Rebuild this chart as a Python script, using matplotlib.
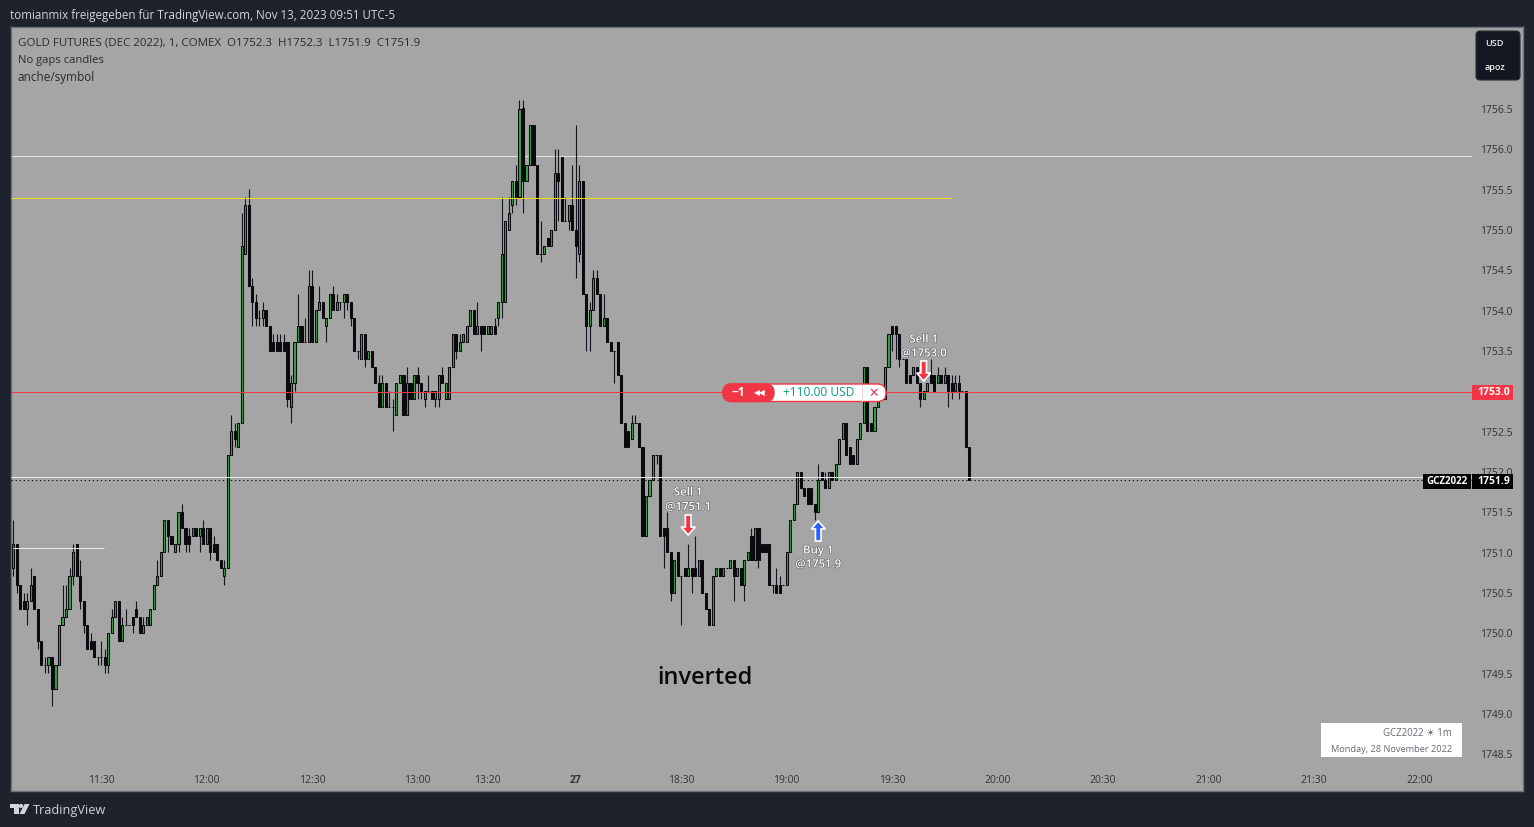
#!/usr/bin/env python3
import matplotlib
matplotlib.use('Agg')
import matplotlib.pyplot as plt
import matplotlib.patheffects as pe
from matplotlib.patches import FancyBboxPatch, Polygon, Circle, Rectangle
import numpy as np

plt.rcParams['font.family'] = ['Open Sans', 'DejaVu Sans']

# prices are kept without the leading 1700
base = 1700
opens = [50.8,51.1,50.6,50.4,50.3,50.4,50.7,50.3,49.9,49.6,
    49.6,49.7,49.3,49.6,50.1,50.2,50.3,50.7,51.1,50.7,
    50.4,50.1,49.9,49.9,49.7,49.7,49.7,49.6,50.0,50.2,
    50.4,49.9,50.1,50.1,50.2,50.3,50.2,50.0,50.1,50.1,
    50.3,50.6,50.7,51.0,51.4,51.2,51.0,51.1,51.5,51.3,
    51.2,51.2,51.3,51.2,51.3,51.1,51.3,51.1,51.1,50.9,
    50.7,50.8,52.2,52.5,52.3,52.6,54.7,55.3,54.3,54.1,
    53.9,53.9,54.0,53.8,53.6,53.6,53.6,53.6,53.6,52.8,
    53.1,53.6,53.8,53.6,53.6,54.3,53.6,54.0,54.1,53.8,
    53.9,54.2,54.0,54.1,54.1,54.2,54.1,53.9,53.5,53.4,
    53.7,53.4,53.5,53.3,53.1,52.8,53.1,52.8,52.8,52.7,
    53.1,53.2,52.7,53.1,52.9,53.2,53.1,52.9,53.0,53.0,
    52.9,52.9,53.2,52.9,52.9,53.3,53.7,53.5,53.6,53.6,
    53.8,54.0,53.7,53.8,53.8,53.7,53.7,53.8,53.9,54.1,
    54.1,55.0,55.3,55.6,55.4,56.5,55.6,55.8,56.3,55.8,
    54.7,54.7,54.9,54.8,55.0,55.7,55.9,55.1,55.1,55.3,
    55.0,54.7,55.6,54.2,53.8,54.0,54.4,54.2,53.8,53.9,
    53.6,53.5,53.6,53.2,52.6,52.5,52.4,52.6,52.6,52.3,
    51.2,51.7,51.9,52.2,52.2,51.3,51.3,51.0,50.5,51.0,
    50.7,50.8,50.7,50.8,50.8,50.7,50.9,50.5,50.3,50.1,
    50.7,50.8,50.7,50.8,50.8,50.9,50.7,50.8,50.6,50.9,
    51.2,50.9,51.3,51.1,51.1,51.1,50.6,50.6,50.6,50.6,
    50.6,51.0,51.4,51.6,52.0,51.8,51.8,51.8,51.6,51.5,
    52.0,51.9,51.8,52.0,51.9,52.1,52.4,52.6,52.3,52.2,
    52.1,52.4,52.6,53.3,52.6,52.5,52.8,52.9,52.9,53.3,
    53.8,53.8,53.7,53.4,53.4,53.2,53.2,53.3,53.1,52.9,
    53.0,53.2,53.2,53.1,53.2,53.1,53.2,53.1,53.0,53.1,
    53.0,53.0,52.3]
highs = [51.4,51.1,50.6,50.5,50.5,50.8,50.7,50.3,49.9,49.7,
    49.7,49.7,49.6,50.1,50.6,50.6,50.8,51.1,51.1,50.9,
    50.4,50.1,50.0,49.9,49.7,49.9,49.8,50.0,50.3,50.4,
    50.4,50.2,50.3,50.1,50.2,50.4,50.2,50.2,50.2,50.3,
    50.6,50.9,51.0,51.4,51.4,51.2,51.1,51.5,51.6,51.3,
    51.3,51.3,51.3,51.3,51.4,51.3,51.3,51.2,51.1,50.9,
    50.9,52.2,52.7,52.6,52.6,55.2,55.4,55.5,54.4,54.2,
    54.0,54.1,54.0,53.8,53.7,53.7,53.7,53.7,53.6,53.2,
    53.6,54.2,53.8,53.9,54.5,54.5,54.0,54.3,54.1,53.9,
    54.2,54.3,54.2,54.1,54.2,54.2,54.1,53.9,53.5,53.7,
    53.7,53.5,53.5,53.3,53.2,53.2,53.1,53.0,52.9,53.1,
    53.2,53.2,53.3,53.1,53.2,53.3,53.1,53.0,53.2,53.0,
    53.0,53.2,53.3,53.1,53.3,53.7,53.7,53.7,53.7,53.8,
    54.0,54.0,54.1,53.8,53.8,53.8,53.8,53.9,54.1,55.4,
    55.1,55.4,55.6,55.8,56.6,56.6,55.8,56.3,56.3,55.8,
    55.1,54.8,54.9,55.0,56.0,56.0,55.9,55.4,55.3,55.8,
    56.3,55.8,55.6,54.2,54.1,54.5,54.5,54.2,54.2,53.9,
    53.6,53.5,53.6,53.2,52.6,52.5,52.7,52.7,52.6,52.3,
    51.7,51.9,52.2,52.2,52.2,51.3,51.5,51.0,50.9,51.0,
    50.7,50.8,51.1,50.8,51.2,50.9,50.9,50.5,50.3,50.7,
    50.8,50.8,50.8,50.8,50.9,50.9,50.8,50.8,50.9,51.0,
    51.3,51.3,51.3,51.1,51.1,51.1,50.6,50.8,50.7,50.6,
    51.0,51.4,51.6,52.0,52.0,51.8,51.8,51.8,51.6,52.1,
    52.0,52.0,52.0,52.0,52.1,52.4,52.6,52.6,52.3,52.2,
    52.4,52.6,53.3,53.3,52.6,52.8,52.9,53.0,53.3,53.7,
    53.8,53.8,53.7,53.4,53.4,53.2,53.3,53.3,53.1,53.0,
    53.1,53.4,53.2,53.3,53.2,53.3,53.2,53.2,53.2,53.2,
    53.0,53.0,52.3]
lows = [50.7,50.5,50.3,50.3,50.1,50.4,50.3,49.8,49.6,49.5,
    49.5,49.1,49.3,49.6,50.1,50.2,50.3,50.6,50.7,50.3,
    50.0,49.8,49.8,49.7,49.6,49.6,49.5,49.5,50.0,50.2,
    49.9,49.9,50.1,50.1,50.0,50.2,50.0,50.0,50.1,50.1,
    50.3,50.6,50.7,51.0,51.0,51.1,51.0,51.0,51.3,51.0,
    51.0,51.2,51.2,51.0,51.1,51.1,50.9,51.0,50.9,50.8,
    50.6,50.8,52.2,52.3,52.3,52.6,54.7,54.3,53.8,53.8,
    53.8,53.8,53.8,53.5,53.5,53.5,53.5,53.5,52.8,52.6,
    53.0,53.6,53.6,53.6,53.6,53.6,53.6,54.0,53.9,53.6,
    53.9,54.0,54.0,54.0,53.9,54.0,53.8,53.5,53.4,53.4,
    53.3,53.4,53.3,53.1,52.8,52.8,52.8,52.8,52.5,52.7,
    53.1,52.7,52.7,52.9,52.9,52.9,52.9,52.8,53.0,52.9,
    52.8,52.8,53.1,52.9,52.9,53.3,53.4,53.5,53.6,53.6,
    53.8,53.7,53.7,53.5,53.7,53.7,53.7,53.7,53.8,53.9,
    54.1,55.0,55.2,55.3,55.4,55.2,55.6,55.8,55.8,54.7,
    54.6,54.7,54.8,54.8,55.0,55.1,55.1,55.1,55.0,55.0,
    54.4,54.6,54.2,53.5,53.5,54.0,54.2,53.8,53.8,53.6,
    53.5,53.1,53.2,52.6,52.3,52.3,52.4,52.6,52.3,51.2,
    51.2,51.7,51.9,52.1,51.2,50.8,51.0,50.4,50.5,50.7,
    50.1,50.7,50.7,50.5,50.7,50.7,50.5,50.3,50.1,50.1,
    50.7,50.7,50.7,50.8,50.8,50.4,50.7,50.6,50.4,50.9,
    50.9,50.9,50.8,51.0,51.0,50.6,50.5,50.5,50.5,50.6,
    50.6,51.0,51.4,51.6,51.8,51.7,51.6,51.6,51.4,51.5,
    51.9,51.8,51.8,51.9,51.9,52.1,52.4,52.2,52.1,52.1,
    52.1,52.4,52.6,52.5,52.5,52.5,52.8,52.9,52.9,53.3,
    53.5,53.4,53.3,53.4,53.1,53.1,53.2,53.1,52.8,52.9,
    53.0,53.1,53.0,53.1,53.1,53.1,52.8,52.9,53.0,52.9,
    53.0,52.3,51.9]
closes = [51.1,50.6,50.3,50.3,50.4,50.6,50.3,49.9,49.6,49.6,
    49.7,49.3,49.6,50.1,50.2,50.3,50.7,51.0,50.7,50.4,
    50.1,49.8,49.8,49.7,49.7,49.7,49.6,50.0,50.2,50.4,
    49.9,50.1,50.1,50.1,50.1,50.2,50.0,50.1,50.2,50.3,
    50.6,50.7,51.0,51.4,51.2,51.1,51.1,51.5,51.3,51.1,
    51.1,51.3,51.2,51.3,51.1,51.3,51.0,51.0,50.9,50.8,
    50.8,52.2,52.5,52.4,52.6,54.8,55.3,54.3,54.1,53.9,
    53.9,54.0,53.8,53.5,53.5,53.5,53.5,53.5,52.9,53.1,
    53.6,53.8,53.6,53.6,54.3,53.6,54.0,54.1,53.9,53.9,
    54.2,54.0,54.1,54.1,54.2,54.1,53.9,53.5,53.5,53.7,
    53.4,53.5,53.3,53.1,52.8,53.1,52.8,52.8,52.8,53.1,
    53.2,52.7,53.1,52.9,53.2,53.1,53.0,53.0,53.0,52.9,
    53.0,53.2,53.1,53.1,53.3,53.7,53.5,53.6,53.7,53.8,
    54.0,53.7,53.8,53.7,53.7,53.8,53.8,53.7,54.1,54.7,
    55.1,55.2,55.6,55.4,56.5,55.6,55.8,56.3,55.8,54.7,
    54.7,54.8,54.8,55.0,55.7,55.6,55.1,55.1,55.3,55.0,
    54.8,55.6,54.2,53.8,54.0,54.4,54.2,53.8,53.9,53.6,
    53.5,53.5,53.2,52.6,52.3,52.3,52.6,52.6,52.3,51.2,
    51.7,51.9,52.2,52.2,51.2,51.2,51.0,50.5,50.9,50.7,
    50.7,50.7,50.8,50.7,50.7,50.9,50.5,50.3,50.1,50.7,
    50.8,50.7,50.8,50.8,50.9,50.7,50.8,50.6,50.9,51.0,
    50.9,51.3,50.9,51.0,51.0,50.6,50.6,50.5,50.5,50.6,
    51.0,51.4,51.6,52.0,51.8,51.7,51.6,51.6,51.5,51.9,
    51.9,51.8,52.0,51.9,52.1,52.4,52.6,52.2,52.1,52.1,
    52.4,52.6,53.3,52.5,52.5,52.8,52.9,53.0,53.3,53.7,
    53.7,53.7,53.4,53.4,53.1,53.1,53.3,53.1,52.9,53.0,
    53.1,53.1,53.0,53.2,53.1,53.2,53.0,53.0,53.1,53.0,
    53.0,52.3,51.9]

time_ticks = [25, 55, 85, 115, 135, 160, 190, 220, 250, 280, 310, 340, 370, 400]
time_labels = ['11:30', '12:00', '12:30', '13:00', '13:20', '27', '18:30', '19:00',
               '19:30', '20:00', '20:30', '21:00', '21:30', '22:00']
price_ticks = np.arange(1748.5, 1757.0, 0.5)

white_level = 1755.91
yellow_level = 1755.39
short_level = 1751.05
entry_level = 1752.99
round_level = 1751.93
last_price = 1751.89

W, H = 1534, 828
BG = '#1e222d'
PANE = '#a5a5a5'
LEFT, RIGHT, TOP, BOTTOM = 11, 1523, 28, 792
SCALE_X = 1472
BAR_PX = 3.515
X0 = 13.3

fig = plt.figure(figsize=(W / 100, H / 100), dpi=100, facecolor=BG)
ax = fig.add_axes([LEFT / W, 1 - BOTTOM / H, (RIGHT - LEFT) / W, (BOTTOM - TOP) / H], facecolor=PANE)
ax.set_xlim((LEFT - X0) / BAR_PX, (RIGHT - X0) / BAR_PX)
# 1756.5 sits on y=109.5 and 1748.5 on y=755
ppp = (755 - 109.5) / 8.0
ax.set_ylim(1756.5 - (BOTTOM - 109.5) / ppp, 1756.5 + (109.5 - TOP) / ppp)
for s in ax.spines.values():
    s.set_color('#6f727c')
    s.set_linewidth(1)

o = np.array(opens) + base
h = np.array(highs) + base
l = np.array(lows) + base
c = np.array(closes) + base
idx = np.arange(len(o))
colors = ['#2fa33f' if c[i] > o[i] else '#0b0b0f' for i in idx]

ax.vlines(idx, l, h, color='#12151d', lw=0.8, zorder=3, snap=True)
ax.bar(idx, np.abs(c - o), 0.6, np.minimum(o, c), color=colors, edgecolor='#0b0b0f', lw=0.75, zorder=4)

# levels, the right end is where the price scale begins
rx = (SCALE_X - X0) / BAR_PX
x_start = ax.get_xlim()[0]
ax.hlines(white_level, x_start, rx, color='#e2e2e2', lw=0.75, zorder=2, snap=True)
ax.hlines(yellow_level, x_start, (952 - X0) / BAR_PX, color='#f2dc10', lw=0.75, zorder=5, snap=True)
ax.hlines(short_level, 0, (104 - X0) / BAR_PX, color='#e8e8e8', lw=0.75, zorder=5, snap=True)
ax.hlines(entry_level, x_start, rx, color='#f23645', lw=0.75, zorder=5, snap=True)
ax.hlines(round_level, x_start, rx, color='#e8e8e8', lw=0.75, zorder=5, snap=True)
ax.hlines(last_price, x_start, rx, color='#111111', lw=0.75, linestyle=(0, (1.3, 2.6)), zorder=5, snap=True)

ax.set_xticks([])
ax.set_yticks([])

# pixel layer for everything that is not a candle, one pixel lower than the axes grid
pix = fig.add_axes([0, 0, 1, 1], facecolor='none')
pix.set_xlim(0, W)
pix.set_ylim(H - 1, -1)
pix.axis('off')

def bar_x(i):
    return X0 + BAR_PX * i

def price_y(p):
    return 109.5 + (1756.5 - p) * ppp

pix.text(10, 14, 'tomianmix freigegeben für TradingView.com, Nov 13, 2023 09:51 UTC-5',
         color='#d1d4dc', fontsize=8.35, va='center', weight='medium')
pix.text(18, 42, 'GOLD FUTURES (DEC 2022), 1, COMEX  O1752.3  H1752.3  L1751.9  C1751.9',
         color='#2b2b2b', fontsize=8.28, va='center')
pix.text(18, 59, 'No gaps candles', color='#2b2b2b', fontsize=8.1, va='center')
pix.text(18, 76, 'anche/symbol', color='#2b2b2b', fontsize=8.5, va='center')

for p in price_ticks:
    pix.text(1480, price_y(p), '%.1f' % p, color='#333333', fontsize=7.5, va='center')
for t, lab in zip(time_ticks, time_labels):
    pix.text(bar_x(t), 780, lab, color='#333333', fontsize=7.5, va='center', ha='center',
             weight='bold' if lab == '27' else 'normal')

# currency box
pix.add_patch(FancyBboxPatch((1476, 31), 44, 49, boxstyle='round,pad=0,rounding_size=4',
                             fc='#131722', ec='#2a2e39', lw=0.8, zorder=6))
pix.text(1494, 43, 'USD', color='#eeeeee', fontsize=6.6, ha='center', va='center', weight='semibold', zorder=7)
pix.text(1495, 67, 'apoz', color='#eeeeee', fontsize=6.6, ha='center', va='center', weight='semibold', zorder=7)

# price tags
pix.add_patch(Rectangle((1472, 384.5), 41, 15, fc='#f23645', ec='none', zorder=6))
pix.text(1494, 392, '1753.0', color='white', fontsize=7.5, ha='center', va='center', weight='bold', zorder=7)
pix.add_patch(Rectangle((1423, 474), 48, 15, fc='black', ec='none', zorder=6))
pix.text(1446.5, 481, 'GCZ2022', color='white', fontsize=7, ha='center', va='center', weight='bold', zorder=7)
pix.add_patch(Rectangle((1472, 474), 41, 15, fc='black', ec='none', zorder=6))
pix.text(1494, 481, '1751.9', color='white', fontsize=7.5, ha='center', va='center', weight='bold', zorder=7)

# position pill
pix.add_patch(FancyBboxPatch((723, 384), 163, 17.5, boxstyle='round,pad=0,rounding_size=8.5',
                             fc='white', ec='#f23645', lw=1, zorder=8))
pix.add_patch(FancyBboxPatch((723, 384), 51, 17.5, boxstyle='round,pad=0,rounding_size=8.5',
                             fc='#f23645', ec='#f23645', lw=1, zorder=9))
pix.plot([862, 862], [385, 401], color='#fbd5d8', lw=0.8, zorder=9)
pix.text(738.5, 392, '\u22121', color='white', fontsize=8.6, ha='center', va='center', weight='bold', zorder=10)
pix.text(760, 392, '\u25c0\u25c0', color='white', fontsize=5.5, ha='center', va='center', family='DejaVu Sans', zorder=10)
pix.text(819, 392, '+110.00 USD', color='#089981', fontsize=8.6, ha='center', va='center', zorder=10)
pix.text(873.5, 392, '\u2715', color='#f23645', fontsize=9, ha='center', va='center', family='DejaVu Sans', zorder=10)

# trade marks
def trade(i, y_top, up, col, top_text, bot_text, ty1, ty2):
    cx = bar_x(i)
    if up:
        pts = [(cx, y_top), (cx + 7, y_top + 8), (cx + 2.8, y_top + 8), (cx + 2.8, y_top + 20),
               (cx - 2.8, y_top + 20), (cx - 2.8, y_top + 8), (cx - 7, y_top + 8)]
    else:
        b = y_top + 20
        pts = [(cx, b), (cx + 7, b - 8), (cx + 2.8, b - 8), (cx + 2.8, b - 20),
               (cx - 2.8, b - 20), (cx - 2.8, b - 8), (cx - 7, b - 8)]
    pix.add_patch(Polygon(pts, closed=True, fc=col, ec='white', lw=1.2, joinstyle='miter', zorder=7))
    for s, ty in ((top_text, ty1), (bot_text, ty2)):
        pix.text(cx, ty, s, color='white', fontsize=8.2, ha='center', va='center', zorder=7, weight='semibold',
                 path_effects=[pe.withStroke(linewidth=0.8, foreground='#5c5e63')])

trade(192, 515, False, '#f23645', 'Sell 1', '@1751.1', 493, 507.5)
trade(229, 521, True, '#2962ff', 'Buy 1', '@1751.9', 551, 565)
trade(259, 361, False, '#f23645', 'Sell 1', '@1753.0', 340, 354)

pix.text(704.5, 677.5, 'inverted', color='#0a0a0a', fontsize=17, ha='center', va='center', weight='semibold')

# watermark box
pix.add_patch(Rectangle((1321, 723), 141, 34, fc='white', ec='none', zorder=6))
pix.text(1452, 732, 'GCZ2022 \u2600 1m', color='#666a75', fontsize=6.9, ha='right', va='center', zorder=7)
pix.text(1452, 749, 'Monday, 28 November 2022', color='#666a75', fontsize=6.65, ha='right', va='center', zorder=7)

# logo
logo = '#d1d4dc'
pix.add_patch(Polygon([(10, 804), (18.5, 804), (18.5, 814), (14, 814), (14, 808.2), (10, 808.2)], fc=logo, ec='none'))
pix.add_patch(Circle((21, 806), 2.1, fc=logo, ec='none'))
pix.add_patch(Polygon([(24.5, 804), (29.5, 804), (24.5, 814), (19.5, 814)], fc=logo, ec='none'))
pix.text(33, 810, 'TradingView', color=logo, fontsize=9.2, va='center')

fig.savefig('out.png', dpi=100, facecolor=BG)
